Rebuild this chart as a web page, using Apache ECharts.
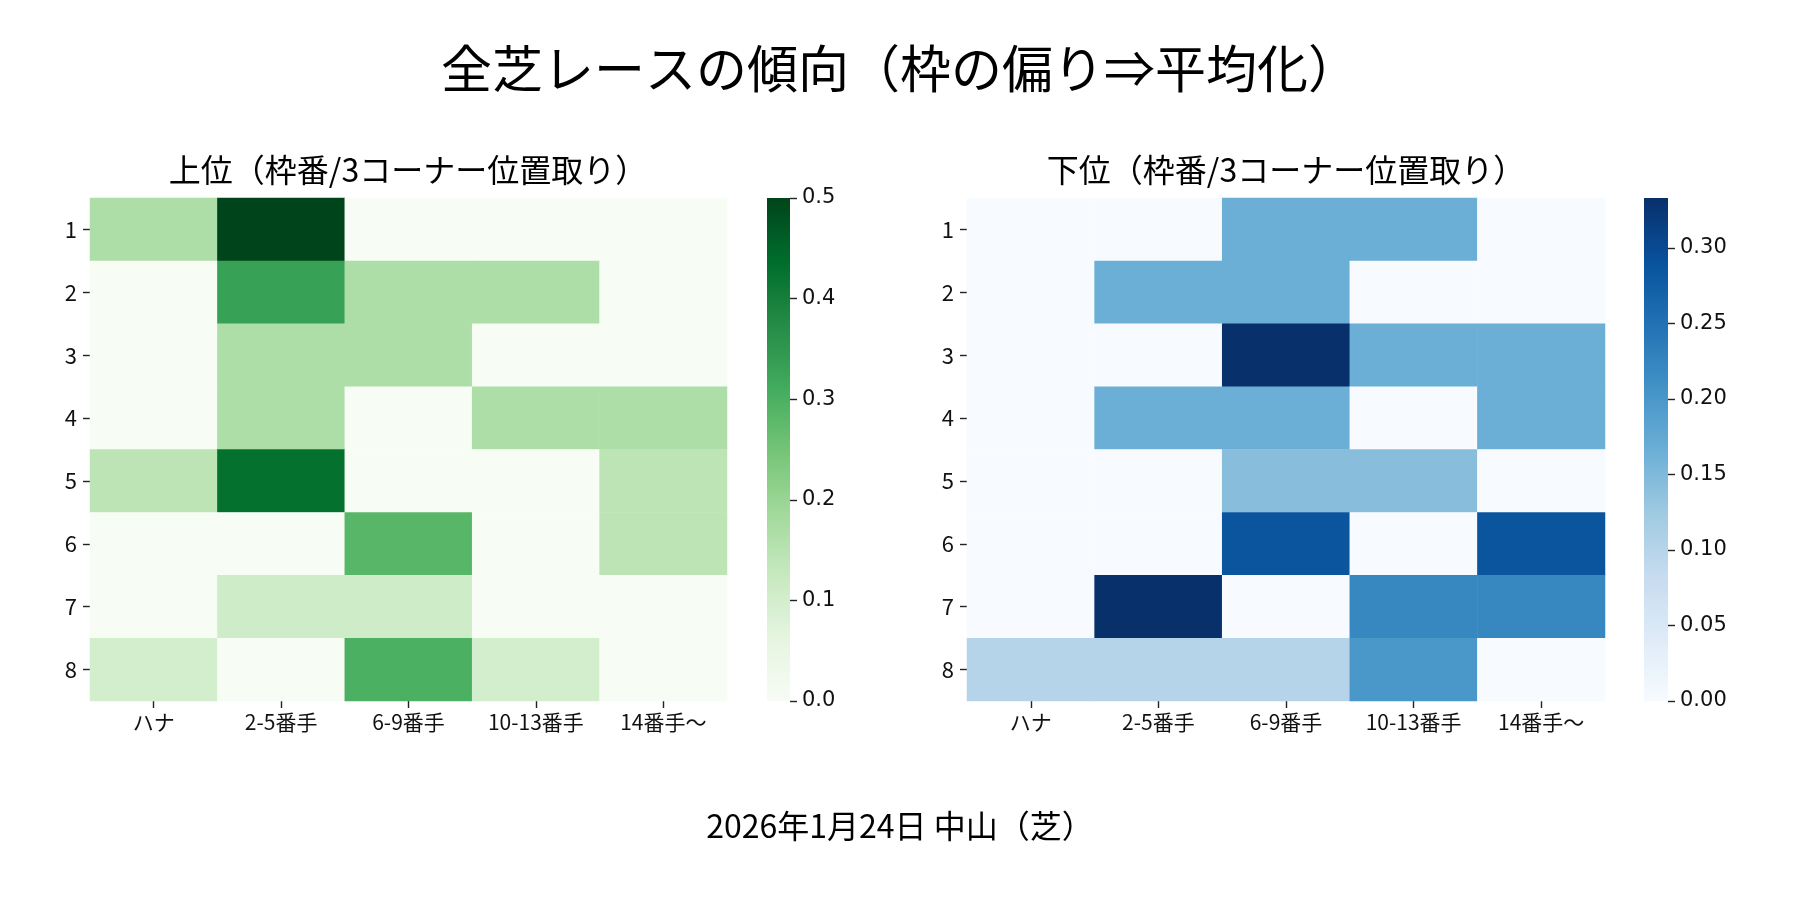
<!DOCTYPE html>
<html>
<head>
<meta charset="utf-8">
<script src="https://cdn.jsdelivr.net/npm/echarts@6/dist/echarts.min.js"></script>
<style>
  html, body { margin: 0; padding: 0; background: #fff; }
  #chart { width: 1800px; height: 900px; }
</style>
</head>
<body>
<div id="chart"></div>
<script>
// 列(3コーナー位置取り)と行(枠番)
const cols = ['ハナ', '2-5番手', '6-9番手', '10-13番手', '14番手〜'];
const rows = ['1', '2', '3', '4', '5', '6', '7', '8'];

// 上位
const upper = [
  [0.167, 0.5,   0,     0,     0],
  [0,     0.333, 0.167, 0.167, 0],
  [0,     0.167, 0.167, 0,     0],
  [0,     0.167, 0,     0.167, 0.167],
  [0.143, 0.429, 0,     0,     0.143],
  [0,     0,     0.286, 0,     0.143],
  [0,     0.111, 0.111, 0,     0],
  [0.1,   0,     0.3,   0.1,   0]
];

// 下位
const lower = [
  [0,   0,     0.167, 0.167, 0],
  [0,   0.167, 0.167, 0,     0],
  [0,   0,     0.333, 0.167, 0.167],
  [0,   0.167, 0.167, 0,     0.167],
  [0,   0,     0.143, 0.143, 0],
  [0,   0,     0.286, 0,     0.286],
  [0,   0.333, 0,     0.222, 0.222],
  [0.1, 0.1,   0.1,   0.2,   0]
];

// カラーバーの目盛り
const upperTicks = [0, 0.1, 0.2, 0.3, 0.4, 0.5];
const lowerTicks = [0, 0.05, 0.10, 0.15, 0.20, 0.25, 0.30];

const greens = ['#f7fcf5', '#e5f5e0', '#c7e9c0', '#a1d99b', '#74c476', '#41ab5d', '#238b45', '#006d2c', '#00441b'];
const blues = ['#f7fbff', '#deebf7', '#c6dbef', '#9ecae1', '#6baed6', '#4292c6', '#2171b5', '#08519c', '#08306b'];

const JP = 'Noto Sans CJK JP';

function toCells(mat) {
  let out = [];
  mat.forEach(function (r, i) {
    r.forEach(function (v, j) { out.push([j, i, v]); });
  });
  return out;
}

function gradient(colors) {
  // 上が最大値
  let stops = colors.slice().reverse().map(function (c, i) {
    return { offset: i / (colors.length - 1), color: c };
  });
  return { type: 'linear', x: 0, y: 0, x2: 0, y2: 1, colorStops: stops };
}

const heatTop = 198, heatH = 503;
const grids = [
  { left: 90, top: heatTop, width: 637, height: heatH },
  { left: 767, top: heatTop, width: 23, height: heatH, show: true, borderWidth: 0, backgroundColor: gradient(greens) },
  { left: 967, top: heatTop, width: 638, height: heatH },
  { left: 1644, top: heatTop, width: 24, height: heatH, show: true, borderWidth: 0, backgroundColor: gradient(blues) }
];

function catX(gi) {
  return {
    type: 'category', gridIndex: gi, data: cols,
    axisLine: { show: false },
    axisTick: { show: true, alignWithLabel: true, length: 7, lineStyle: { color: '#222', width: 1.4 } },
    axisLabel: { color: '#111', fontFamily: JP, fontSize: 21, margin: 11 },
    splitArea: { show: false }
  };
}
function catY(gi) {
  return {
    type: 'category', gridIndex: gi, data: rows, inverse: true,
    axisLine: { show: false },
    axisTick: { show: true, alignWithLabel: true, length: 7, lineStyle: { color: '#222', width: 1.4 } },
    axisLabel: { color: '#111', fontFamily: JP, fontSize: 22, margin: 13 },
    splitArea: { show: false }
  };
}
function barX(gi) {
  return { type: 'value', gridIndex: gi, show: false, min: 0, max: 1 };
}
function barY(gi, ticks, max, digits) {
  return {
    type: 'value', gridIndex: gi, position: 'right',
    min: 0, max: max, interval: ticks[1] - ticks[0],
    axisLine: { show: false, onZero: false },
    axisTick: { show: true, length: 7, lineStyle: { color: '#222', width: 1.4 } },
    splitLine: { show: false },
    axisLabel: {
      color: '#111', fontFamily: 'DejaVu Sans', fontSize: 21, margin: 12,
      showMaxLabel: max === ticks[ticks.length - 1],
      formatter: function (v) { return v.toFixed(digits); }
    }
  };
}

const option = {
  backgroundColor: '#fff',
  animation: false,
  title: [
    { text: '全芝レースの傾向（枠の偏り⇒平均化）', left: 'center', top: 43, padding: 0,
      textStyle: { fontFamily: JP, fontSize: 51, fontWeight: 'normal', color: '#000' } },
    { text: '上位（枠番/3コーナー位置取り）', left: 408, top: 154, padding: 0, textAlign: 'center',
      textStyle: { fontFamily: JP, fontSize: 32, fontWeight: 'normal', color: '#000' } },
    { text: '下位（枠番/3コーナー位置取り）', left: 1286, top: 154, padding: 0, textAlign: 'center',
      textStyle: { fontFamily: JP, fontSize: 32, fontWeight: 'normal', color: '#000' } },
    { text: '2026年1月24日 中山（芝）', left: 'center', top: 810, padding: 0,
      textStyle: { fontFamily: JP, fontSize: 32, fontWeight: 'normal', color: '#000' } }
  ],
  grid: grids,
  xAxis: [catX(0), barX(1), catX(2), barX(3)],
  yAxis: [catY(0), barY(1, upperTicks, 0.5, 1), catY(2), barY(3, lowerTicks, 0.333, 2)],
  visualMap: [
    { type: 'continuous', show: false, seriesIndex: 0, dimension: 2, min: 0, max: 0.5, inRange: { color: greens } },
    { type: 'continuous', show: false, seriesIndex: 1, dimension: 2, min: 0, max: 0.333, inRange: { color: blues } }
  ],
  series: [
    { name: '上位', type: 'heatmap', xAxisIndex: 0, yAxisIndex: 0, data: toCells(upper),
      itemStyle: { borderWidth: 0 }, emphasis: { disabled: true } },
    { name: '下位', type: 'heatmap', xAxisIndex: 2, yAxisIndex: 2, data: toCells(lower),
      itemStyle: { borderWidth: 0 }, emphasis: { disabled: true } }
  ]
};

const myChart = echarts.init(document.getElementById('chart'));
myChart.setOption(option);
</script>
</body>
</html>
